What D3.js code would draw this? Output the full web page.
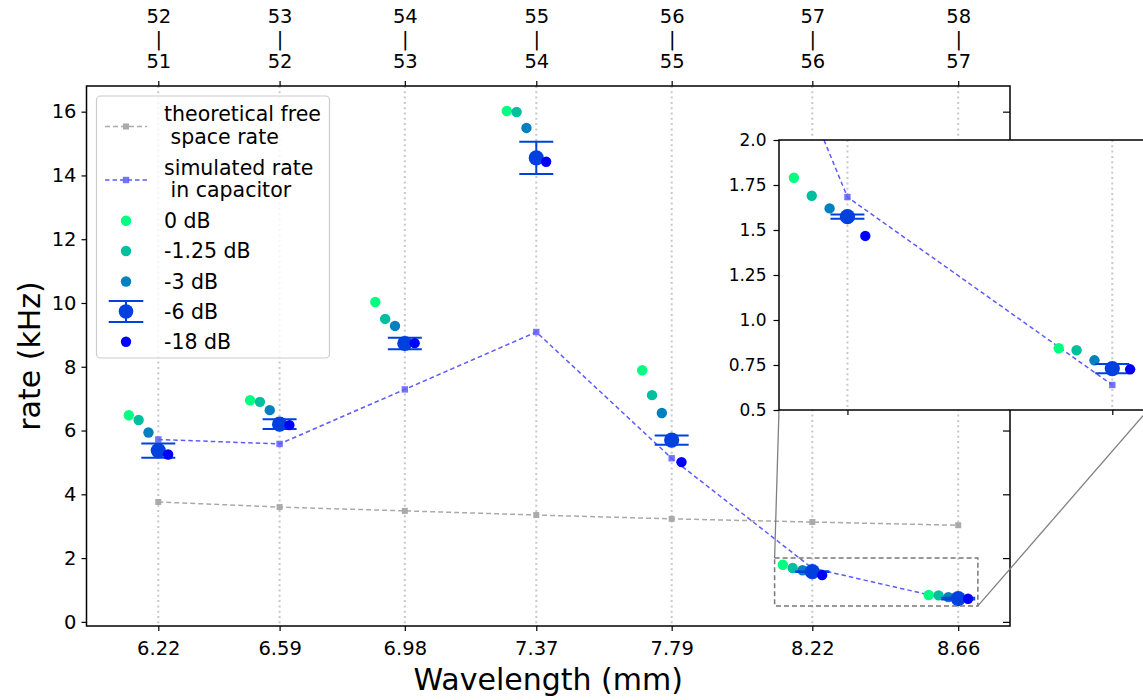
<!DOCTYPE html>
<html><head><meta charset="utf-8">
<script src="https://cdn.jsdelivr.net/npm/d3@7"></script>
<style>
body{margin:0;background:#fff}
text{font-family:"DejaVu Sans",sans-serif;fill:#000}
</style>
</head><body>
<svg id="c" width="1143" height="700"></svg>
<script>
// ---------- data ----------
const wavelengths = [6.22, 6.59, 6.972, 7.373, 7.786, 8.215, 8.66];
const wlLabels = ["6.22", "6.59", "6.98", "7.37", "7.79", "8.22", "8.66"];
const topUpper = ["52", "53", "54", "55", "56", "57", "58"];
const topLower = ["51", "52", "53", "54", "55", "56", "57"];
const yTicks = [0, 2, 4, 6, 8, 10, 12, 14, 16];
const insetYTicks = [0.5, 0.75, 1.0, 1.25, 1.5, 1.75, 2.0];
const insetYLabels = ["0.5", "0.75", "1.0", "1.25", "1.5", "1.75", "2.0"];

const freeSpace = [3.76, 3.60, 3.48, 3.35, 3.23, 3.13, 3.03];
const simulated = [5.72, 5.58, 7.29, 9.09, 5.13, 1.683, 0.639];

const seriesNames = ["0 dB", "-1.25 dB", "-3 dB", "-6 dB", "-18 dB"];
const seriesOffsets = [-0.09, -0.06, -0.03, 0, 0.03];
const rate0 = [6.48, 6.95, 10.03, 16.02, 7.89, 1.79, 0.843];
const rate125 = [6.33, 6.90, 9.50, 15.99, 7.11, 1.69, 0.832];
const rate3 = [5.94, 6.64, 9.28, 15.49, 6.55, 1.62, 0.776];
const rate6 = [5.37, 6.20, 8.73, 14.55, 5.70, 1.574, 0.73];
const rate6err = [0.22, 0.15, 0.18, 0.505, 0.145, 0.012, 0.026];
const rate18 = [5.25, 6.17, 8.74, 14.43, 5.01, 1.467, 0.726];
const insetRange = {x: [8.1, 8.72], y: [0.5, 2.0]};

// ---------- styles ----------
const colors = ["rgb(0,255,128)", "rgb(0,191,159)", "rgb(0,128,191)", "rgb(0,64,223)", "rgb(0,0,255)"];
const radii = [5.2, 5.2, 5.2, 7.6, 5.2];
const series = [rate0, rate125, rate3, rate6, rate18];
const simColor = "#5c5cff", freeColor = "#aaaaaa";

const svg = d3.select("#c");
const L = 86.5, R = 1010, T = 86, B = 626;
const x = d3.scaleLinear().domain([6.001, 8.818]).range([L, R]);
const y = d3.scaleLinear().domain([-0.13, 16.805]).range([B, T]);
const defs = svg.append("defs");
defs.append("clipPath").attr("id", "mainclip").append("rect")
  .attr("x", L).attr("y", T).attr("width", R - L).attr("height", B - T);

// grid lines
svg.append("g").selectAll("line").data(wavelengths).join("line")
  .attr("x1", d => x(d)).attr("x2", d => x(d)).attr("y1", T).attr("y2", B)
  .attr("stroke", "#c8c8c8").attr("stroke-width", 2).attr("stroke-dasharray", "2,3.3");

function drawContent(g, xs, ys, capHalf) {
  const line = d3.line().x((d, i) => xs(wavelengths[i])).y(d => ys(d));
  g.append("path").datum(freeSpace).attr("d", line).attr("fill", "none")
    .attr("stroke", freeColor).attr("stroke-width", 1.5).attr("stroke-dasharray", "5,3");
  g.append("g").selectAll("rect").data(freeSpace).join("rect")
    .attr("x", (d, i) => xs(wavelengths[i]) - 3).attr("y", d => ys(d) - 3)
    .attr("width", 6).attr("height", 6).attr("fill", freeColor);
  g.append("path").datum(simulated).attr("d", line).attr("fill", "none")
    .attr("stroke", simColor).attr("stroke-width", 1.5).attr("stroke-dasharray", "4.5,3");
  g.append("g").selectAll("rect").data(simulated).join("rect")
    .attr("x", (d, i) => xs(wavelengths[i]) - 3.2).attr("y", d => ys(d) - 3.2)
    .attr("width", 6.4).attr("height", 6.4).attr("fill", simColor).attr("fill-opacity", 0.85);
  series.forEach((vals, si) => {
    const sg = g.append("g");
    if (si === 3) {
      const eg = sg.append("g").attr("stroke", colors[3]).attr("stroke-width", 2);
      vals.forEach((v, j) => {
        const cx = xs(wavelengths[j] + seriesOffsets[si]);
        const e = rate6err[j];
        eg.append("line").attr("x1", cx).attr("x2", cx).attr("y1", ys(v - e)).attr("y2", ys(v + e));
        eg.append("line").attr("x1", cx - capHalf).attr("x2", cx + capHalf).attr("y1", ys(v - e)).attr("y2", ys(v - e));
        eg.append("line").attr("x1", cx - capHalf).attr("x2", cx + capHalf).attr("y1", ys(v + e)).attr("y2", ys(v + e));
      });
    }
    sg.selectAll("circle").data(vals).join("circle")
      .attr("cx", (d, j) => xs(wavelengths[j] + seriesOffsets[si]))
      .attr("cy", d => ys(d)).attr("r", radii[si]).attr("fill", colors[si]);
  });
}

const main = svg.append("g").attr("clip-path", "url(#mainclip)");
drawContent(main, x, y, 17);

// axes
const fs = "19.5px";
const gl = svg.append("g").attr("transform", `translate(${L},0)`)
  .call(d3.axisLeft(y).tickValues(yTicks).tickSize(5).tickPadding(5).tickFormat(d3.format("d")));
const gb = svg.append("g").attr("transform", `translate(0,${B})`)
  .call(d3.axisBottom(x).tickValues(wavelengths).tickSize(5).tickPadding(10).tickFormat((d, i) => wlLabels[i]));
const gt = svg.append("g").attr("transform", `translate(0,${T})`)
  .call(d3.axisTop(x).tickValues(wavelengths).tickSize(5).tickFormat(""));
const gr = svg.append("g").attr("transform", `translate(${R},0)`)
  .call(d3.axisLeft(y).tickValues(yTicks).tickSize(7).tickFormat(""));
[gl, gb, gt, gr].forEach(g => {
  g.select(".domain").remove();
  g.selectAll(".tick line").attr("stroke", "#000").attr("stroke-width", 1.2);
  g.selectAll("text").attr("font-size", fs).attr("font-family", "DejaVu Sans").attr("fill", "#000");
});
gt.selectAll(".tick").each(function (d, i) {
  const t = d3.select(this).append("text").attr("text-anchor", "middle")
    .attr("font-size", fs).attr("font-family", "DejaVu Sans").attr("fill", "#000");
  t.append("tspan").attr("x", 0).attr("y", -63).text(topUpper[i]);
  t.append("tspan").attr("x", 0).attr("y", -40.5).text("|");
  t.append("tspan").attr("x", 0).attr("y", -18).text(topLower[i]);
});

// axis titles
svg.append("text").attr("x", (L + R) / 2).attr("y", 690).attr("text-anchor", "middle")
  .attr("font-size", "30px").text("Wavelength (mm)");
svg.append("text").attr("transform", `translate(40,${(T + B) / 2}) rotate(-90)`)
  .attr("text-anchor", "middle").attr("font-size", "30px").text("rate (kHz)");

// frame
svg.append("rect").attr("x", L).attr("y", T).attr("width", R - L).attr("height", B - T)
  .attr("fill", "none").attr("stroke", "#000").attr("stroke-width", 1.5);

// legend
const lg = svg.append("g");
lg.append("rect").attr("x", 96.5).attr("y", 96).attr("width", 233).attr("height", 262)
  .attr("rx", 4).attr("fill", "#fff").attr("fill-opacity", 0.8).attr("stroke", "#cccccc").attr("stroke-width", 1.2);
const tx = 164, hx0 = 105, hx1 = 147, hc = 126;
function ltext(yc, str) {
  lg.append("text").attr("x", tx).attr("y", yc + 7.4).attr("font-size", "20.5px")
    .attr("xml:space", "preserve").style("white-space", "pre").text(str);
}
ltext(114, "theoretical free"); ltext(136.5, " space rate");
lg.append("line").attr("x1", hx0).attr("x2", hx1).attr("y1", 126.5).attr("y2", 126.5)
  .attr("stroke", freeColor).attr("stroke-width", 1.5).attr("stroke-dasharray", "5,3");
lg.append("rect").attr("x", hc - 3).attr("y", 123.5).attr("width", 6).attr("height", 6).attr("fill", freeColor);
ltext(167.3, "simulated rate"); ltext(189.8, " in capacitor");
lg.append("line").attr("x1", hx0).attr("x2", hx1).attr("y1", 180).attr("y2", 180)
  .attr("stroke", simColor).attr("stroke-width", 1.5).attr("stroke-dasharray", "4.5,3");
lg.append("rect").attr("x", hc - 3.2).attr("y", 176.8).attr("width", 6.4).attr("height", 6.4).attr("fill", simColor).attr("fill-opacity", 0.85);
const rows = [220.7, 251, 281.5, 311.5, 341.7];
seriesNames.forEach((n, i) => {
  if (i === 3) {
    const eg = lg.append("g").attr("stroke", colors[3]).attr("stroke-width", 2);
    eg.append("line").attr("x1", hc).attr("x2", hc).attr("y1", rows[i] - 10.5).attr("y2", rows[i] + 10.5);
    eg.append("line").attr("x1", hc - 17.3).attr("x2", hc + 17.3).attr("y1", rows[i] - 10.5).attr("y2", rows[i] - 10.5);
    eg.append("line").attr("x1", hc - 17.3).attr("x2", hc + 17.3).attr("y1", rows[i] + 10.5).attr("y2", rows[i] + 10.5);
  }
  lg.append("circle").attr("cx", hc).attr("cy", rows[i]).attr("r", i === 3 ? 7.3 : 5.2).attr("fill", colors[i]);
  ltext(rows[i], n);
});

// inset indicator box + connectors
const IL = 779, IR = 1148, IT = 140, IB = 410;
svg.append("rect").attr("x", x(insetRange.x[0])).attr("y", y(insetRange.y[1]))
  .attr("width", x(insetRange.x[1]) - x(insetRange.x[0])).attr("height", y(insetRange.y[0]) - y(insetRange.y[1]))
  .attr("fill", "none").attr("stroke", "#777").attr("stroke-width", 1.5).attr("stroke-dasharray", "5,3");
svg.append("line").attr("x1", x(insetRange.x[0])).attr("y1", y(insetRange.y[1])).attr("x2", IL).attr("y2", IB)
  .attr("stroke", "#808080").attr("stroke-width", 1.3);
svg.append("line").attr("x1", x(insetRange.x[1])).attr("y1", y(insetRange.y[0])).attr("x2", IR).attr("y2", IB)
  .attr("stroke", "#808080").attr("stroke-width", 1.3);

// inset
const xi = d3.scaleLinear().domain(insetRange.x).range([IL, IR]);
const yi = d3.scaleLinear().domain(insetRange.y).range([IB, IT]);
defs.append("clipPath").attr("id", "insetclip").append("rect")
  .attr("x", IL).attr("y", IT).attr("width", IR - IL).attr("height", IB - IT);
svg.append("rect").attr("x", IL).attr("y", IT).attr("width", IR - IL).attr("height", IB - IT).attr("fill", "#fff");
const ig = svg.append("g").attr("clip-path", "url(#insetclip)");
ig.append("g").selectAll("line").data(wavelengths.filter(w => w >= insetRange.x[0] && w <= insetRange.x[1])).join("line")
  .attr("x1", d => xi(d)).attr("x2", d => xi(d)).attr("y1", IT).attr("y2", IB)
  .attr("stroke", "#c8c8c8").attr("stroke-width", 2).attr("stroke-dasharray", "2,3.3");
drawContent(ig, xi, yi, 17);
const il = svg.append("g").attr("transform", `translate(${IL},0)`)
  .call(d3.axisLeft(yi).tickValues(insetYTicks).tickSize(5.5).tickPadding(7).tickFormat((d, i) => insetYLabels[i]));
const ib = svg.append("g").attr("transform", `translate(0,${IB})`)
  .call(d3.axisBottom(xi).tickValues(wavelengths.filter(w => w >= insetRange.x[0] && w <= insetRange.x[1])).tickSize(5).tickFormat(""));
[il, ib].forEach(g => {
  g.select(".domain").remove();
  g.selectAll(".tick line").attr("stroke", "#000").attr("stroke-width", 1.2);
  g.selectAll("text").attr("font-size", "17px").attr("font-family", "DejaVu Sans").attr("fill", "#000");
});
svg.append("rect").attr("x", IL).attr("y", IT).attr("width", IR - IL).attr("height", IB - IT)
  .attr("fill", "none").attr("stroke", "#000").attr("stroke-width", 1.5);
</script>
</body></html>
